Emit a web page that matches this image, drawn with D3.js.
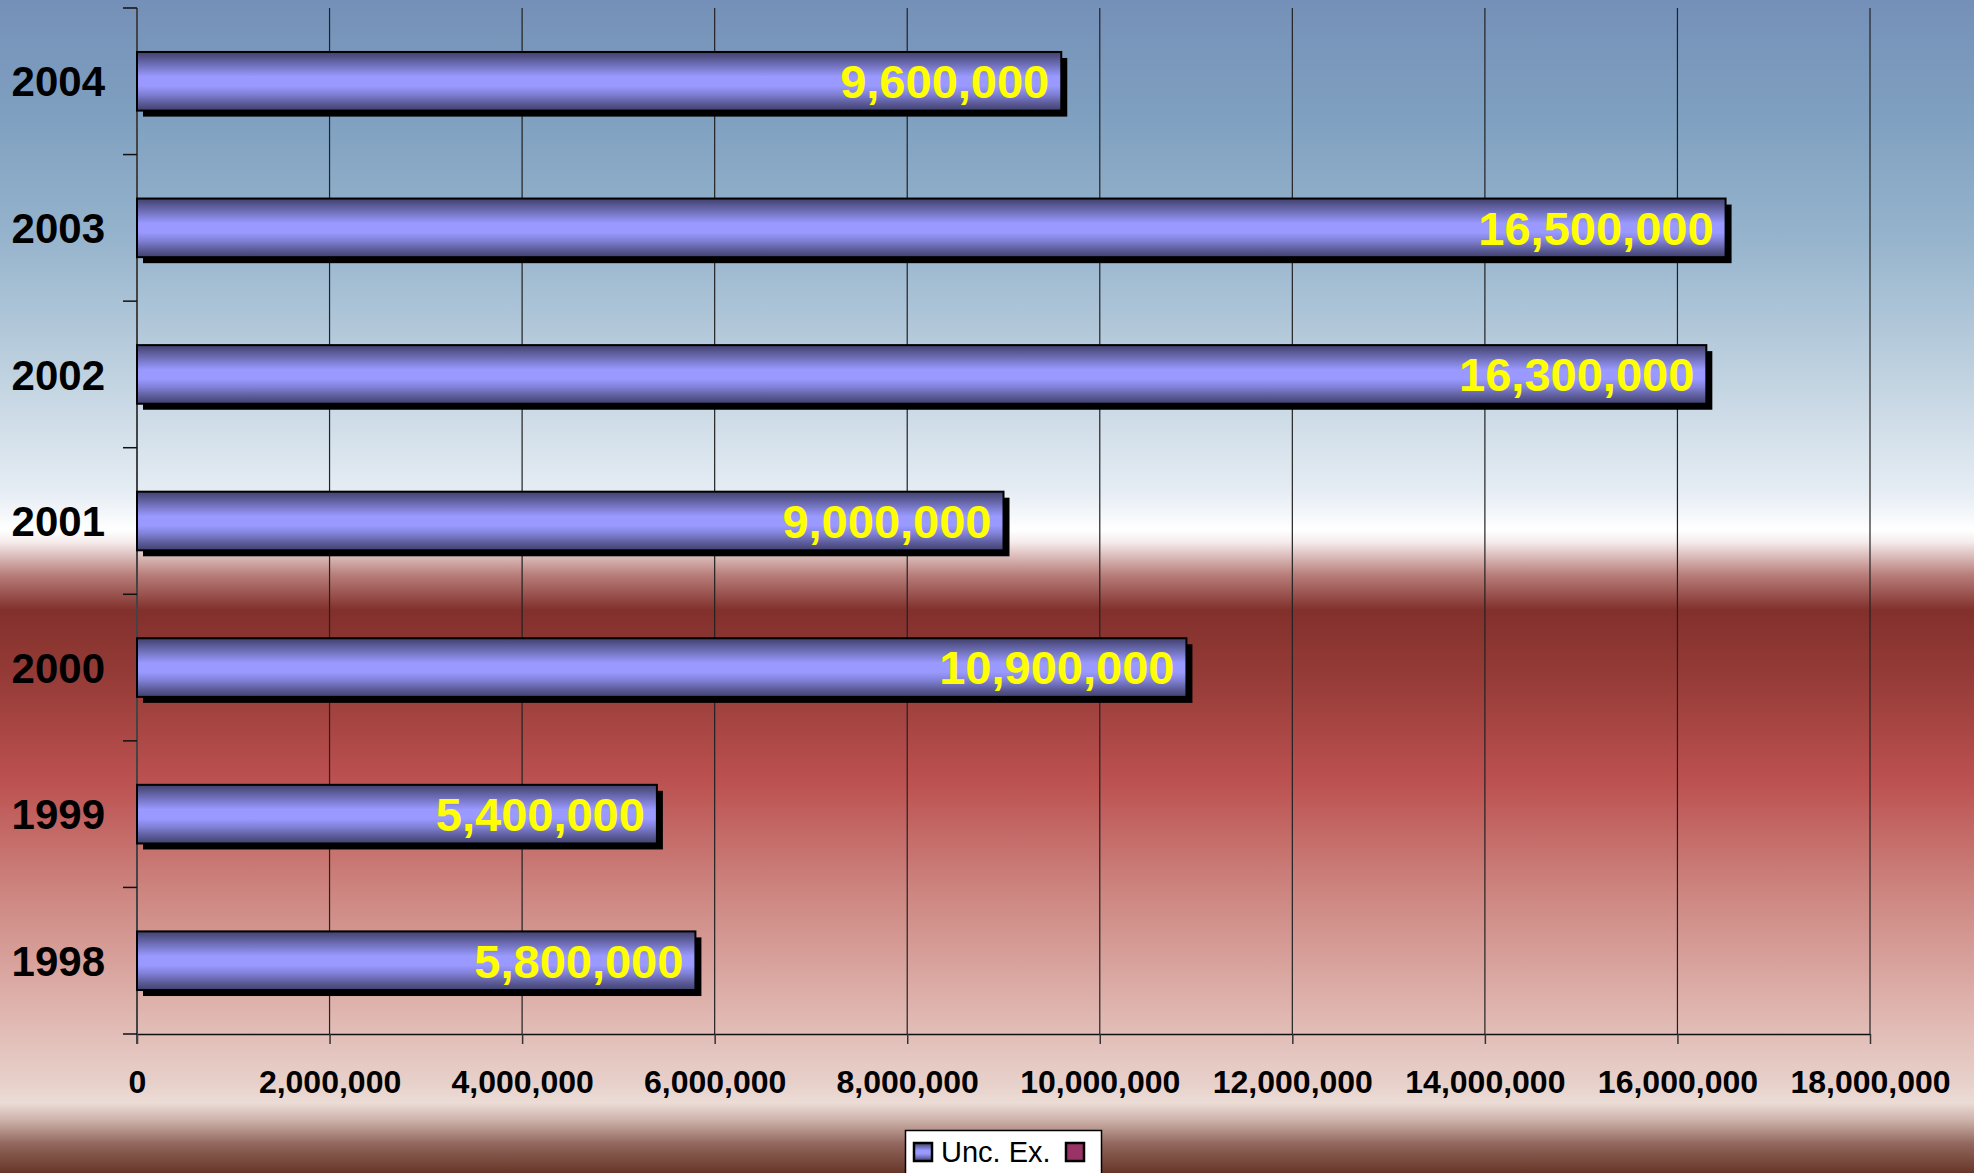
<!DOCTYPE html>
<html>
<head>
<meta charset="utf-8">
<script src="https://cdn.jsdelivr.net/npm/d3@7"></script>
<style>
  html, body { margin: 0; padding: 0; background: #fff; }
  svg { display: block; }
</style>
</head>
<body>
<svg id="chart" width="1974" height="1173"></svg>
<script>
// ---- data ----
const years = ["2004", "2003", "2002", "2001", "2000", "1999", "1998"];
const values = [9600000, 16500000, 16300000, 9000000, 10900000, 5400000, 5800000];
const xTicks = [0, 2000000, 4000000, 6000000, 8000000, 10000000, 12000000, 14000000, 16000000, 18000000];
const seriesNames = ["Unc. Ex.", ""];
const seriesColors = ["#9999ff", "#993366"];

const W = 1974, H = 1173;
const svg = d3.select("#chart");
const defs = svg.append("defs");

// background gradient
const bg = defs.append("linearGradient").attr("id", "bg").attr("x1", 0).attr("y1", 0).attr("x2", 0).attr("y2", 1);
[
  [0.00, "#7590b8"], [0.10, "#7fa0c0"], [0.20, "#95b3cc"], [0.32, "#c0d2e0"],
  [0.42, "#e6edf4"], [0.452, "#ffffff"], [0.462, "#f6ecec"], [0.49, "#b87e7a"],
  [0.52, "#82302c"], [0.58, "#973c38"], [0.665, "#bb5150"], [0.76, "#cd8580"],
  [0.86, "#dfb4ae"], [0.925, "#e8d1cb"], [0.94, "#ecdcd6"], [0.955, "#cdb2aa"],
  [0.975, "#93675d"], [1.00, "#663629"]
].forEach(([o, c]) => bg.append("stop").attr("offset", o).attr("stop-color", c));
svg.append("rect").attr("width", W).attr("height", H).attr("fill", "url(#bg)");

// bar gradient
const bar = defs.append("linearGradient").attr("id", "barg").attr("x1", 0).attr("y1", 0).attr("x2", 0).attr("y2", 1);
[
  [0.00, "#40406e"], [0.12, "#5a5a96"], [0.30, "#8080d6"], [0.42, "#9999ff"],
  [0.58, "#9999ff"], [0.72, "#8080d6"], [0.88, "#5a5a96"], [1.00, "#40406e"]
].forEach(([o, c]) => bar.append("stop").attr("offset", o).attr("stop-color", c));

// scales
const x = d3.scaleLinear().domain([0, 18000000]).range([137, 1870]);
const y = d3.scaleBand().domain(years).range([8, 1034]).padding(0);
const bw = y.bandwidth();
const barH = bw * 0.4;

// vertical gridlines
svg.append("g").selectAll("line").data(xTicks.slice(1)).join("line")
  .attr("x1", d => x(d)).attr("x2", d => x(d))
  .attr("y1", 8).attr("y2", 1034)
  .attr("stroke", "#222").attr("stroke-width", 1.2);

// x axis
const xAxis = svg.append("g").attr("transform", "translate(0,1034)")
  .call(d3.axisBottom(x).tickValues(xTicks).tickFormat(d3.format(",")).tickSize(10).tickSizeOuter(0));
xAxis.select(".domain").attr("stroke", "#111").attr("stroke-width", 1.5);
xAxis.selectAll(".tick line").attr("stroke", "#333").attr("stroke-width", 1.5);
xAxis.selectAll("text")
  .attr("font-family", "'Liberation Sans', Arial, sans-serif")
  .attr("font-weight", "bold").attr("font-size", 32).attr("fill", "#000")
  .attr("dy", 0).attr("y", 59);

// y axis line and ticks at band boundaries
svg.append("line").attr("x1", 137).attr("x2", 137).attr("y1", 8).attr("y2", 1044)
  .attr("stroke", "#444").attr("stroke-width", 2);
const bounds = years.map(d => y(d)).concat([y.range()[1]]);
svg.append("g").selectAll("line").data(bounds).join("line")
  .attr("x1", 123).attr("x2", 137).attr("y1", d => d).attr("y2", d => d)
  .attr("stroke", "#111").attr("stroke-width", 1.5);

// y labels
svg.append("g").selectAll("text").data(years).join("text")
  .attr("x", 105).attr("y", d => y(d) + bw / 2).attr("dy", "0.36em")
  .attr("text-anchor", "end")
  .attr("font-family", "'Liberation Sans', Arial, sans-serif")
  .attr("font-weight", "bold").attr("font-size", 42).attr("fill", "#000")
  .text(d => d);

const rows = years.map((d, i) => ({ year: d, value: values[i] }));

// shadows
svg.append("g").selectAll("rect").data(rows).join("rect")
  .attr("x", x(0) + 6).attr("y", d => y(d.year) + (bw - barH) / 2 + 6)
  .attr("width", d => x(d.value) - x(0)).attr("height", barH)
  .attr("fill", "#000");

// bars
svg.append("g").selectAll("rect").data(rows).join("rect")
  .attr("x", x(0)).attr("y", d => y(d.year) + (bw - barH) / 2)
  .attr("width", d => x(d.value) - x(0)).attr("height", barH)
  .attr("fill", "url(#barg)").attr("stroke", "#000").attr("stroke-width", 2);

// value labels
svg.append("g").selectAll("text").data(rows).join("text")
  .attr("x", d => x(d.value) - 12).attr("y", d => y(d.year) + bw / 2).attr("dy", "0.36em")
  .attr("text-anchor", "end")
  .attr("font-family", "'Liberation Sans', Arial, sans-serif")
  .attr("font-weight", "bold").attr("font-size", 47).attr("fill", "#ffff00")
  .text(d => d3.format(",")(d.value));

// legend
const lg = svg.append("g");
lg.append("rect").attr("x", 905.5).attr("y", 1130.5).attr("width", 196).attr("height", 60)
  .attr("fill", "#fff").attr("stroke", "#000").attr("stroke-width", 1.5);
lg.append("rect").attr("x", 914).attr("y", 1143).attr("width", 18).attr("height", 18)
  .attr("fill", "url(#barg)").attr("stroke", "#000").attr("stroke-width", 2.5);
lg.append("text").attr("x", 941).attr("y", 1162)
  .attr("font-family", "'Liberation Sans', Arial, sans-serif")
  .attr("font-size", 29).attr("fill", "#000").text(seriesNames[0]);
lg.append("rect").attr("x", 1066).attr("y", 1143).attr("width", 18).attr("height", 18)
  .attr("fill", seriesColors[1]).attr("stroke", "#000").attr("stroke-width", 2.5);
</script>
</body>
</html>
